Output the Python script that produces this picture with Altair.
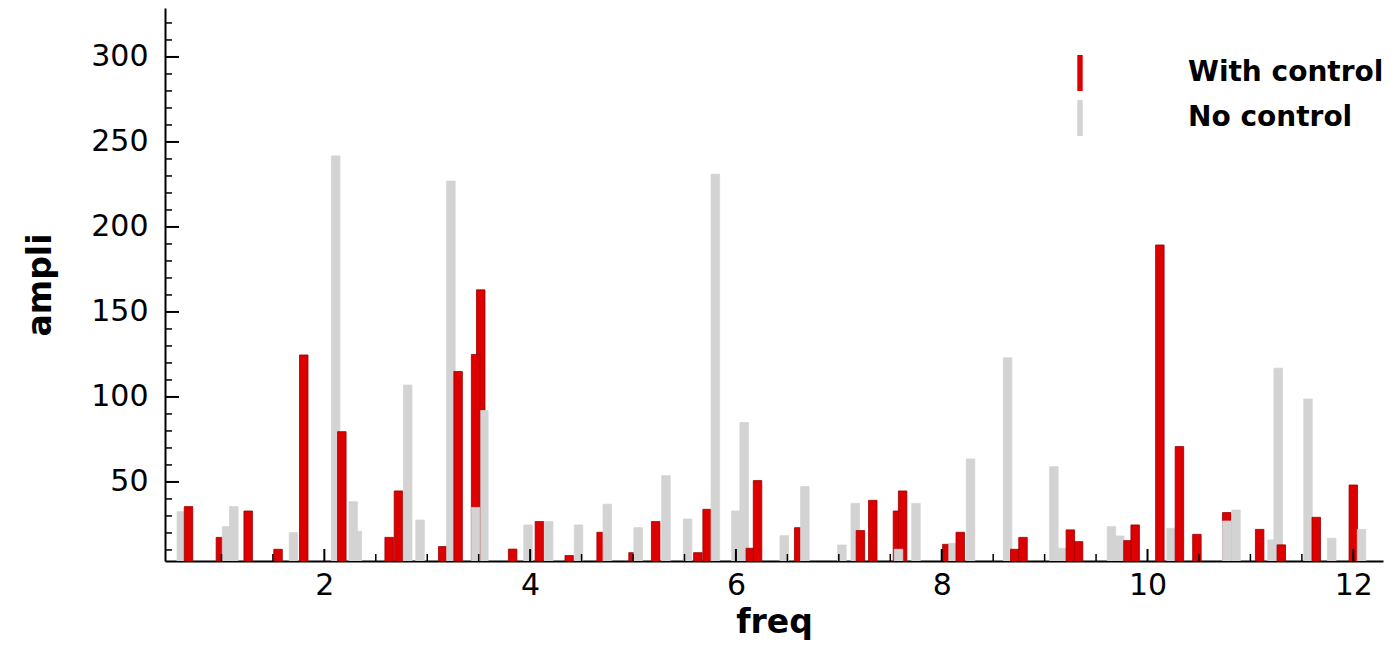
import altair as alt
import pandas as pd

# bars in drawing order (later bars are drawn over earlier ones)
freq = [0.61, 0.68, 0.99, 1.05, 1.12, 1.26, 1.55, 1.70, 1.80, 2.11,
        2.17, 2.28, 2.32, 2.63, 2.72, 2.81, 2.93, 3.15, 3.23, 3.30,
        3.52, 3.55, 3.47, 3.47, 3.83, 3.98, 4.09, 4.18, 4.38, 4.47,
        4.69, 4.75, 5.00, 5.05, 5.22, 5.32, 5.53, 5.63, 5.72, 5.80,
        6.00, 6.08, 6.14, 6.21, 6.47, 6.61, 6.67, 7.03, 7.16, 7.21,
        7.33, 7.57, 7.62, 7.58, 7.75, 8.05, 8.11, 8.18, 8.28, 8.64,
        8.71, 8.79, 9.09, 9.17, 9.25, 9.33, 9.65, 9.73, 9.81, 9.88,
        10.12, 10.23, 10.31, 10.48, 10.77, 10.77, 10.86, 11.09, 11.21, 11.27,
        11.30, 11.56, 11.64, 11.79, 12.00, 12.08]
ampli = [32.5, 35.5, 17.4, 23.7, 35.5, 32.9, 10.4, 20.2, 124.7, 241.8,
         79.6, 38.4, 21.0, 17.4, 44.7, 107.0, 27.6, 12.0, 227.0, 115.0,
         163.0, 92.0, 125.0, 35.0, 10.5, 24.7, 26.7, 26.7, 6.7, 24.7,
         20.4, 36.9, 8.4, 23.1, 26.7, 53.7, 28.2, 8.4, 33.9, 231.0,
         32.9, 84.9, 11.0, 50.8, 18.4, 23.1, 47.3, 12.9, 37.4, 21.4,
         39.2, 32.9, 44.7, 10.4, 37.4, 13.3, 13.9, 20.4, 63.5, 123.0,
         10.4, 17.4, 59.0, 11.0, 21.8, 14.9, 23.7, 18.2, 15.5, 24.7,
         189.4, 22.7, 70.8, 19.2, 32.0, 27.0, 33.5, 22.1, 15.9, 116.9,
         13.0, 98.8, 29.2, 16.9, 48.2, 22.1]
group = ["N", "W", "W", "N", "N", "W", "W", "N", "W", "N",
         "W", "N", "N", "W", "W", "N", "N", "W", "N", "W",
         "W", "N", "W", "N", "W", "N", "W", "N", "W", "N",
         "W", "N", "W", "N", "W", "N", "N", "W", "W", "N",
         "N", "N", "W", "W", "N", "W", "N", "N", "N", "W",
         "W", "W", "W", "N", "N", "W", "N", "W", "N", "N",
         "W", "W", "N", "N", "W", "W", "N", "N", "W", "W",
         "W", "N", "W", "W", "W", "N", "N", "W", "N", "N",
         "W", "N", "W", "N", "W", "N"]
series_names = {"W": "With control", "N": "No control"}
series_order = ["With control", "No control"]
series_colors = ["#dc0000", "#d3d3d3"]
series_strokes = ["#9a0000", "#d3d3d3"]

x_major = [2, 4, 6, 8, 10, 12]
x_minor = [1, 1.5, 2.5, 3, 3.5, 4.5, 5, 5.5, 6.5, 7, 7.5, 8.5, 9, 9.5,
           10.5, 11, 11.5]
y_major = [50, 100, 150, 200, 250, 300]
y_minor = [10, 20, 30, 40, 60, 70, 80, 90, 110, 120, 130, 140, 160, 170,
           180, 190, 210, 220, 230, 240, 260, 270, 280, 290, 310, 320]

X_DOMAIN = [0.5, 12.24]
Y_DOMAIN = [3.5, 328.8]
W, H = 1218, 553
FONT = "DejaVu Sans"

df = pd.DataFrame({
    "freq": freq,
    "ampli": ampli,
    "series": [series_names[g] for g in group],
    "order": list(range(len(freq))),
})

xs = alt.Scale(domain=X_DOMAIN, nice=False, zero=False)
ys = alt.Scale(domain=Y_DOMAIN, nice=False, zero=False)

bars = alt.Chart(df).mark_bar(width=8.5, clip=True, strokeWidth=0.8).encode(
    x=alt.X("freq:Q", scale=xs, axis=alt.Axis(
        values=x_major, format="d", title="freq", grid=False, ticks=False,
        tickSize=0, labelPadding=9, labelFontSize=30, labelFont=FONT,
        labelColor="black", domainColor="black", domainWidth=2,
        titleFont=FONT, titleFontSize=33, titleFontWeight="bold",
        titleColor="black", titleY=71, titleBaseline="alphabetic")),
    y=alt.Y("ampli:Q", scale=ys, stack=None, axis=alt.Axis(
        values=y_major, format="d", title="ampli", grid=False, ticks=False,
        tickSize=0, labelPadding=17, labelFontSize=30, labelFont=FONT,
        labelColor="black", domainColor="black", domainWidth=2,
        titleFont=FONT, titleFontSize=33, titleFontWeight="bold",
        titleColor="black", titleX=-125, titleBaseline="middle")),
    y2=alt.datum(0),
    color=alt.Color("series:N", scale=alt.Scale(domain=series_order, range=series_colors),
                    legend=alt.Legend(
                        orient="none", legendX=897, legendY=47, title=None,
                        symbolType="M-0.15,-1L0.15,-1L0.15,1L-0.15,1Z",
                        symbolSize=1296, symbolStrokeWidth=0, symbolOpacity=1,
                        labelOffset=90, rowPadding=9, padding=0,
                        labelFont=FONT, labelFontSize=28, labelFontWeight="bold",
                        labelColor="black", labelLimit=400, labelBaseline="middle")),
    stroke=alt.Stroke("series:N", scale=alt.Scale(domain=series_order, range=series_strokes),
                      legend=None),
    order=alt.Order("order:Q"),
)

ymaj = alt.Chart(pd.DataFrame({"v": y_major})).mark_rule(color="black", strokeWidth=2).encode(
    y=alt.Y("v:Q", scale=ys), x=alt.value(0), x2=alt.value(14))
ymin = alt.Chart(pd.DataFrame({"v": y_minor})).mark_rule(color="black", strokeWidth=1.5).encode(
    y=alt.Y("v:Q", scale=ys), x=alt.value(0), x2=alt.value(7))
xmaj = alt.Chart(pd.DataFrame({"f": x_major})).mark_rule(color="black", strokeWidth=2).encode(
    x=alt.X("f:Q", scale=xs), y=alt.value(H), y2=alt.value(H - 12))
xmin = alt.Chart(pd.DataFrame({"f": x_minor})).mark_rule(color="black", strokeWidth=1.5).encode(
    x=alt.X("f:Q", scale=xs), y=alt.value(H), y2=alt.value(H - 7))

chart = alt.layer(bars, ymaj, ymin, xmaj, xmin).properties(
    width=W, height=H,
    autosize=alt.AutoSizeParams(type="none"),
    padding={"left": 157, "top": 0, "right": 9, "bottom": 84},
    background="white",
).configure_view(stroke=None)

chart.save("out.html", embed_options={"renderer": "svg", "actions": False})
